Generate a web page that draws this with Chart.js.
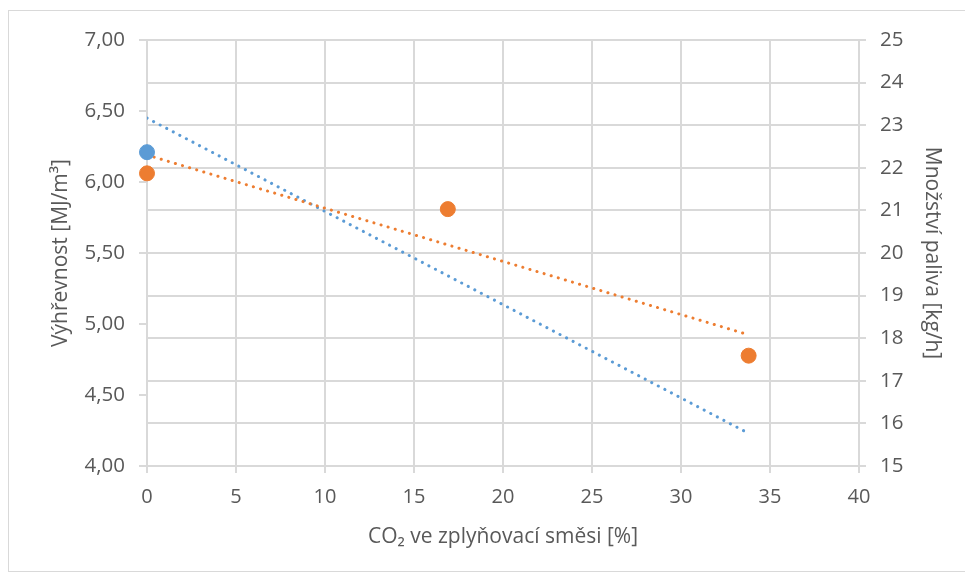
<!DOCTYPE html>
<html>
<head>
<meta charset="utf-8">
<script src="https://cdn.jsdelivr.net/npm/chart.js@4.4.1/dist/chart.umd.min.js"></script>
<style>
  html, body { margin: 0; padding: 0; background: #fff; }
  #frame {
    position: absolute; left: 8px; top: 10px; width: 960px; height: 562px;
    border: 1px solid #d9d9d9; box-sizing: border-box;
  }
  #wrap { position: absolute; left: 0; top: 0; width: 965px; height: 578px; }
</style>
</head>
<body>
<div id="frame"></div>
<div id="wrap"><canvas id="chart" width="965" height="578"></canvas></div>
<script>
const co2 = [0, 16.9, 33.8];
const heatValue = [6.21];               // výhřevnost [MJ/m3], left axis
const fuelFlow = [21.87, 21.03, 17.59]; // množství paliva [kg/h], right axis

// linear trend lines (start / end)
const trendX = [0, 33.8];
const heatTrend = [6.45, 4.23];
const fuelTrend = [22.30, 18.08];

const blue = '#5B9BD5';
const orange = '#ED7D31';
const textColor = '#595959';
const gridColor = '#d9d9d9';
const fontFamily = "'Open Sans', 'DejaVu Sans', sans-serif";

const toPoints = (xs, ys) => ys.map((y, i) => ({ x: xs[i], y: y }));

const ctx = document.getElementById('chart');
new Chart(ctx, {
  type: 'scatter',
  data: {
    datasets: [
      {
        label: 'Množství paliva',
        data: toPoints(co2, fuelFlow),
        yAxisID: 'y2',
        backgroundColor: orange,
        borderColor: orange,
        pointRadius: 7.5,
        pointHoverRadius: 7.5,
        clip: false
      },
      {
        label: 'Výhřevnost',
        data: toPoints(co2, heatValue),
        yAxisID: 'y',
        backgroundColor: blue,
        borderColor: blue,
        pointRadius: 7.5,
        pointHoverRadius: 7.5,
        clip: false
      },
      {
        label: 'Trend paliva',
        type: 'line',
        data: toPoints(trendX, fuelTrend),
        yAxisID: 'y2',
        borderColor: orange,
        borderWidth: 3,
        borderDash: [0.1, 7.3],
        borderCapStyle: 'round',
        pointRadius: 0,
        fill: false
      },
      {
        label: 'Trend výhřevnosti',
        type: 'line',
        data: toPoints(trendX, heatTrend),
        yAxisID: 'y',
        borderColor: blue,
        borderWidth: 3,
        borderDash: [0.1, 7.3],
        borderCapStyle: 'round',
        pointRadius: 0,
        fill: false
      }
    ]
  },
  options: {
    responsive: false,
    animation: false,
    layout: { padding: { left: 0, right: 0, top: 40, bottom: 0 } },
    plugins: {
      legend: { display: false },
      tooltip: { enabled: false }
    },
    scales: {
      x: {
        type: 'linear',
        min: 0, max: 40,
        ticks: { stepSize: 5, color: textColor, padding: 12, font: { family: fontFamily, size: 20 } },
        grid: { color: gridColor, lineWidth: 2, tickLength: 7 },
        border: { color: gridColor, width: 2 },
        title: {
          display: true,
          text: 'CO₂ ve zplyňovací směsi [%]',
          color: textColor,
          font: { family: fontFamily, size: 21 },
          padding: { top: 28, bottom: 28 }
        },
        afterFit: s => { s.height = 112; }
      },
      y: {
        position: 'left',
        min: 4, max: 7,
        ticks: {
          stepSize: 0.5, color: textColor, padding: 14,
          font: { family: fontFamily, size: 20.5 },
          callback: v => v.toFixed(2).replace('.', ',')
        },
        grid: { drawOnChartArea: false, color: gridColor, lineWidth: 2, tickLength: 8 },
        border: { color: gridColor, width: 2 },
        title: {
          display: true,
          text: 'Výhřevnost [MJ/m³]',
          color: textColor,
          font: { family: fontFamily, size: 21 },
          padding: { top: 48, bottom: 48 }
        },
        afterFit: s => { s.width = 147; }
      },
      y2: {
        position: 'right',
        min: 15, max: 25,
        ticks: { stepSize: 1, color: textColor, padding: 14, font: { family: fontFamily, size: 20.5 } },
        grid: { color: gridColor, lineWidth: 2, tickLength: 7 },
        border: { color: gridColor, width: 2 },
        title: {
          display: true,
          text: 'Množství paliva [kg/h]',
          color: textColor,
          font: { family: fontFamily, size: 21 },
          padding: { top: 20, bottom: 20 }
        },
        afterFit: s => { s.width = 106; }
      }
    }
  }
});
</script>
</body>
</html>
